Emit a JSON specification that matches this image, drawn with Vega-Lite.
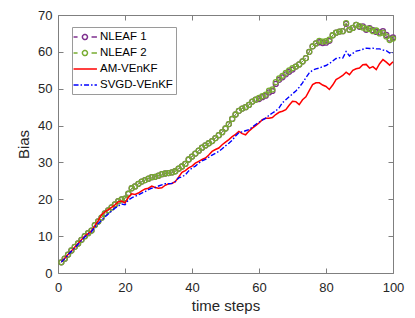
{
"$schema":"https://vega.github.io/schema/vega-lite/v6.json",
"width":335,"height":258,"autosize":"none",
"padding":{"left":58,"top":15,"right":22,"bottom":45},
"background":"white",
"config":{"view":{"stroke":null},"font":"Liberation Sans",
"axis":{"domainColor":"#7f7f7f","tickColor":"#7f7f7f","labelColor":"#262626","titleColor":"#262626","labelFont":"Liberation Sans","titleFont":"Liberation Sans","labelFontSize":13,"titleFontSize":15,"titleFontWeight":"normal","grid":false,"tickSize":-5,"domainWidth":1,"tickWidth":1,"labelFlush":false,"labelOverlap":false}},
"data":{"values":[
{"t":1,"s":"NLEAF 1","v":2.9},{"t":2,"s":"NLEAF 1","v":3.9},{"t":3,"s":"NLEAF 1","v":5.0},{"t":4,"s":"NLEAF 1","v":6.1},{"t":5,"s":"NLEAF 1","v":7.1},{"t":6,"s":"NLEAF 1","v":8.0},{"t":7,"s":"NLEAF 1","v":9.0},{"t":8,"s":"NLEAF 1","v":10.0},{"t":9,"s":"NLEAF 1","v":10.8},{"t":10,"s":"NLEAF 1","v":11.5},
{"t":11,"s":"NLEAF 1","v":13.0},{"t":12,"s":"NLEAF 1","v":14.0},{"t":13,"s":"NLEAF 1","v":15.0},{"t":14,"s":"NLEAF 1","v":16.2},{"t":15,"s":"NLEAF 1","v":17.0},{"t":16,"s":"NLEAF 1","v":17.8},{"t":17,"s":"NLEAF 1","v":18.6},{"t":18,"s":"NLEAF 1","v":19.5},{"t":19,"s":"NLEAF 1","v":20.0},{"t":20,"s":"NLEAF 1","v":20.2},
{"t":21,"s":"NLEAF 1","v":21.5},{"t":22,"s":"NLEAF 1","v":23.0},{"t":23,"s":"NLEAF 1","v":23.5},{"t":24,"s":"NLEAF 1","v":24.2},{"t":25,"s":"NLEAF 1","v":24.8},{"t":26,"s":"NLEAF 1","v":25.2},{"t":27,"s":"NLEAF 1","v":25.6},{"t":28,"s":"NLEAF 1","v":26.0},{"t":29,"s":"NLEAF 1","v":26.1},{"t":30,"s":"NLEAF 1","v":26.4},
{"t":31,"s":"NLEAF 1","v":26.8},{"t":32,"s":"NLEAF 1","v":27.0},{"t":33,"s":"NLEAF 1","v":27.1},{"t":34,"s":"NLEAF 1","v":27.3},{"t":35,"s":"NLEAF 1","v":27.6},{"t":36,"s":"NLEAF 1","v":28.3},{"t":37,"s":"NLEAF 1","v":28.9},{"t":38,"s":"NLEAF 1","v":29.6},{"t":39,"s":"NLEAF 1","v":30.8},{"t":40,"s":"NLEAF 1","v":31.6},
{"t":41,"s":"NLEAF 1","v":32.4},{"t":42,"s":"NLEAF 1","v":33.2},{"t":43,"s":"NLEAF 1","v":34.0},{"t":44,"s":"NLEAF 1","v":34.6},{"t":45,"s":"NLEAF 1","v":35.2},{"t":46,"s":"NLEAF 1","v":35.8},{"t":47,"s":"NLEAF 1","v":36.6},{"t":48,"s":"NLEAF 1","v":37.4},{"t":49,"s":"NLEAF 1","v":38.2},{"t":50,"s":"NLEAF 1","v":39.2},
{"t":51,"s":"NLEAF 1","v":40.4},{"t":52,"s":"NLEAF 1","v":41.8},{"t":53,"s":"NLEAF 1","v":43.0},{"t":54,"s":"NLEAF 1","v":44.0},{"t":55,"s":"NLEAF 1","v":44.6},{"t":56,"s":"NLEAF 1","v":45.0},{"t":57,"s":"NLEAF 1","v":45.6},{"t":58,"s":"NLEAF 1","v":46.5},{"t":59,"s":"NLEAF 1","v":47.0},{"t":60,"s":"NLEAF 1","v":47.2},
{"t":61,"s":"NLEAF 1","v":47.7},{"t":62,"s":"NLEAF 1","v":48.1},{"t":63,"s":"NLEAF 1","v":49.0},{"t":64,"s":"NLEAF 1","v":49.4},{"t":65,"s":"NLEAF 1","v":51.3},{"t":66,"s":"NLEAF 1","v":52.4},{"t":67,"s":"NLEAF 1","v":53.1},{"t":68,"s":"NLEAF 1","v":53.9},{"t":69,"s":"NLEAF 1","v":54.6},{"t":70,"s":"NLEAF 1","v":55.2},
{"t":71,"s":"NLEAF 1","v":56.0},{"t":72,"s":"NLEAF 1","v":56.6},{"t":73,"s":"NLEAF 1","v":57.4},{"t":74,"s":"NLEAF 1","v":58.3},{"t":75,"s":"NLEAF 1","v":60.0},{"t":76,"s":"NLEAF 1","v":61.5},{"t":77,"s":"NLEAF 1","v":62.3},{"t":78,"s":"NLEAF 1","v":62.6},{"t":79,"s":"NLEAF 1","v":62.4},{"t":80,"s":"NLEAF 1","v":62.5},
{"t":81,"s":"NLEAF 1","v":63.0},{"t":82,"s":"NLEAF 1","v":64.5},{"t":83,"s":"NLEAF 1","v":65.2},{"t":84,"s":"NLEAF 1","v":65.5},{"t":85,"s":"NLEAF 1","v":65.6},{"t":86,"s":"NLEAF 1","v":67.6},{"t":87,"s":"NLEAF 1","v":66.0},{"t":88,"s":"NLEAF 1","v":66.5},{"t":89,"s":"NLEAF 1","v":67.3},{"t":90,"s":"NLEAF 1","v":66.8},
{"t":91,"s":"NLEAF 1","v":66.9},{"t":92,"s":"NLEAF 1","v":66.0},{"t":93,"s":"NLEAF 1","v":66.4},{"t":94,"s":"NLEAF 1","v":65.9},{"t":95,"s":"NLEAF 1","v":65.4},{"t":96,"s":"NLEAF 1","v":65.3},{"t":97,"s":"NLEAF 1","v":65.6},{"t":98,"s":"NLEAF 1","v":64.6},{"t":99,"s":"NLEAF 1","v":63.6},{"t":100,"s":"NLEAF 1","v":63.9},
{"t":1,"s":"NLEAF 2","v":2.9},{"t":2,"s":"NLEAF 2","v":3.9},{"t":3,"s":"NLEAF 2","v":5.0},{"t":4,"s":"NLEAF 2","v":6.1},{"t":5,"s":"NLEAF 2","v":7.1},{"t":6,"s":"NLEAF 2","v":8.0},{"t":7,"s":"NLEAF 2","v":9.0},{"t":8,"s":"NLEAF 2","v":10.0},{"t":9,"s":"NLEAF 2","v":10.8},{"t":10,"s":"NLEAF 2","v":11.5},
{"t":11,"s":"NLEAF 2","v":13.0},{"t":12,"s":"NLEAF 2","v":14.0},{"t":13,"s":"NLEAF 2","v":15.0},{"t":14,"s":"NLEAF 2","v":16.2},{"t":15,"s":"NLEAF 2","v":17.0},{"t":16,"s":"NLEAF 2","v":17.8},{"t":17,"s":"NLEAF 2","v":18.6},{"t":18,"s":"NLEAF 2","v":19.5},{"t":19,"s":"NLEAF 2","v":20.0},{"t":20,"s":"NLEAF 2","v":20.2},
{"t":21,"s":"NLEAF 2","v":21.5},{"t":22,"s":"NLEAF 2","v":23.0},{"t":23,"s":"NLEAF 2","v":23.5},{"t":24,"s":"NLEAF 2","v":24.2},{"t":25,"s":"NLEAF 2","v":24.8},{"t":26,"s":"NLEAF 2","v":25.2},{"t":27,"s":"NLEAF 2","v":25.6},{"t":28,"s":"NLEAF 2","v":26.0},{"t":29,"s":"NLEAF 2","v":26.1},{"t":30,"s":"NLEAF 2","v":26.4},
{"t":31,"s":"NLEAF 2","v":26.8},{"t":32,"s":"NLEAF 2","v":27.0},{"t":33,"s":"NLEAF 2","v":27.1},{"t":34,"s":"NLEAF 2","v":27.3},{"t":35,"s":"NLEAF 2","v":27.6},{"t":36,"s":"NLEAF 2","v":28.3},{"t":37,"s":"NLEAF 2","v":28.9},{"t":38,"s":"NLEAF 2","v":29.6},{"t":39,"s":"NLEAF 2","v":30.8},{"t":40,"s":"NLEAF 2","v":31.6},
{"t":41,"s":"NLEAF 2","v":32.4},{"t":42,"s":"NLEAF 2","v":33.2},{"t":43,"s":"NLEAF 2","v":34.0},{"t":44,"s":"NLEAF 2","v":34.6},{"t":45,"s":"NLEAF 2","v":35.2},{"t":46,"s":"NLEAF 2","v":35.8},{"t":47,"s":"NLEAF 2","v":36.6},{"t":48,"s":"NLEAF 2","v":37.4},{"t":49,"s":"NLEAF 2","v":38.2},{"t":50,"s":"NLEAF 2","v":39.2},
{"t":51,"s":"NLEAF 2","v":40.4},{"t":52,"s":"NLEAF 2","v":41.8},{"t":53,"s":"NLEAF 2","v":43.0},{"t":54,"s":"NLEAF 2","v":44.0},{"t":55,"s":"NLEAF 2","v":44.6},{"t":56,"s":"NLEAF 2","v":45.0},{"t":57,"s":"NLEAF 2","v":45.6},{"t":58,"s":"NLEAF 2","v":46.5},{"t":59,"s":"NLEAF 2","v":47.0},{"t":60,"s":"NLEAF 2","v":47.5},
{"t":61,"s":"NLEAF 2","v":48.0},{"t":62,"s":"NLEAF 2","v":48.4},{"t":63,"s":"NLEAF 2","v":49.5},{"t":64,"s":"NLEAF 2","v":49.8},{"t":65,"s":"NLEAF 2","v":51.8},{"t":66,"s":"NLEAF 2","v":52.8},{"t":67,"s":"NLEAF 2","v":53.5},{"t":68,"s":"NLEAF 2","v":54.3},{"t":69,"s":"NLEAF 2","v":55.0},{"t":70,"s":"NLEAF 2","v":55.6},
{"t":71,"s":"NLEAF 2","v":56.0},{"t":72,"s":"NLEAF 2","v":56.6},{"t":73,"s":"NLEAF 2","v":57.4},{"t":74,"s":"NLEAF 2","v":58.3},{"t":75,"s":"NLEAF 2","v":60.0},{"t":76,"s":"NLEAF 2","v":61.5},{"t":77,"s":"NLEAF 2","v":62.3},{"t":78,"s":"NLEAF 2","v":63.0},{"t":79,"s":"NLEAF 2","v":62.8},{"t":80,"s":"NLEAF 2","v":62.9},
{"t":81,"s":"NLEAF 2","v":63.3},{"t":82,"s":"NLEAF 2","v":64.5},{"t":83,"s":"NLEAF 2","v":65.2},{"t":84,"s":"NLEAF 2","v":65.5},{"t":85,"s":"NLEAF 2","v":65.6},{"t":86,"s":"NLEAF 2","v":67.8},{"t":87,"s":"NLEAF 2","v":66.0},{"t":88,"s":"NLEAF 2","v":66.5},{"t":89,"s":"NLEAF 2","v":67.3},{"t":90,"s":"NLEAF 2","v":67.0},
{"t":91,"s":"NLEAF 2","v":66.6},{"t":92,"s":"NLEAF 2","v":66.3},{"t":93,"s":"NLEAF 2","v":66.2},{"t":94,"s":"NLEAF 2","v":65.6},{"t":95,"s":"NLEAF 2","v":65.8},{"t":96,"s":"NLEAF 2","v":65.0},{"t":97,"s":"NLEAF 2","v":65.2},{"t":98,"s":"NLEAF 2","v":64.2},{"t":99,"s":"NLEAF 2","v":63.2},{"t":100,"s":"NLEAF 2","v":63.6},
{"t":1,"s":"AM-VEnKF","v":3.0},{"t":2,"s":"AM-VEnKF","v":4.0},{"t":3,"s":"AM-VEnKF","v":5.0},{"t":4,"s":"AM-VEnKF","v":6.0},{"t":5,"s":"AM-VEnKF","v":7.0},{"t":6,"s":"AM-VEnKF","v":8.0},{"t":7,"s":"AM-VEnKF","v":9.0},{"t":8,"s":"AM-VEnKF","v":10.0},{"t":9,"s":"AM-VEnKF","v":10.7},{"t":10,"s":"AM-VEnKF","v":11.4},
{"t":11,"s":"AM-VEnKF","v":12.8},{"t":12,"s":"AM-VEnKF","v":14.2},{"t":13,"s":"AM-VEnKF","v":15.8},{"t":14,"s":"AM-VEnKF","v":16.6},{"t":15,"s":"AM-VEnKF","v":17.2},{"t":16,"s":"AM-VEnKF","v":17.8},{"t":17,"s":"AM-VEnKF","v":18.5},{"t":18,"s":"AM-VEnKF","v":19.3},{"t":19,"s":"AM-VEnKF","v":19.5},{"t":20,"s":"AM-VEnKF","v":19.0},
{"t":21,"s":"AM-VEnKF","v":20.5},{"t":22,"s":"AM-VEnKF","v":21.5},{"t":23,"s":"AM-VEnKF","v":21.3},{"t":24,"s":"AM-VEnKF","v":21.7},{"t":25,"s":"AM-VEnKF","v":22.3},{"t":26,"s":"AM-VEnKF","v":22.8},{"t":27,"s":"AM-VEnKF","v":23.0},{"t":28,"s":"AM-VEnKF","v":23.6},{"t":29,"s":"AM-VEnKF","v":23.2},{"t":30,"s":"AM-VEnKF","v":23.0},
{"t":31,"s":"AM-VEnKF","v":23.1},{"t":32,"s":"AM-VEnKF","v":23.8},{"t":33,"s":"AM-VEnKF","v":24.2},{"t":34,"s":"AM-VEnKF","v":24.3},{"t":35,"s":"AM-VEnKF","v":24.8},{"t":36,"s":"AM-VEnKF","v":26.0},{"t":37,"s":"AM-VEnKF","v":27.3},{"t":38,"s":"AM-VEnKF","v":27.8},{"t":39,"s":"AM-VEnKF","v":28.5},{"t":40,"s":"AM-VEnKF","v":29.0},
{"t":41,"s":"AM-VEnKF","v":29.8},{"t":42,"s":"AM-VEnKF","v":30.3},{"t":43,"s":"AM-VEnKF","v":30.8},{"t":44,"s":"AM-VEnKF","v":31.2},{"t":45,"s":"AM-VEnKF","v":32.0},{"t":46,"s":"AM-VEnKF","v":33.0},{"t":47,"s":"AM-VEnKF","v":33.5},{"t":48,"s":"AM-VEnKF","v":33.9},{"t":49,"s":"AM-VEnKF","v":34.8},{"t":50,"s":"AM-VEnKF","v":35.5},
{"t":51,"s":"AM-VEnKF","v":36.2},{"t":52,"s":"AM-VEnKF","v":37.0},{"t":53,"s":"AM-VEnKF","v":37.6},{"t":54,"s":"AM-VEnKF","v":38.4},{"t":55,"s":"AM-VEnKF","v":37.8},{"t":56,"s":"AM-VEnKF","v":37.5},{"t":57,"s":"AM-VEnKF","v":38.5},{"t":58,"s":"AM-VEnKF","v":39.3},{"t":59,"s":"AM-VEnKF","v":40.0},{"t":60,"s":"AM-VEnKF","v":40.7},
{"t":61,"s":"AM-VEnKF","v":41.6},{"t":62,"s":"AM-VEnKF","v":42.0},{"t":63,"s":"AM-VEnKF","v":42.0},{"t":64,"s":"AM-VEnKF","v":42.2},{"t":65,"s":"AM-VEnKF","v":43.0},{"t":66,"s":"AM-VEnKF","v":43.6},{"t":67,"s":"AM-VEnKF","v":43.9},{"t":68,"s":"AM-VEnKF","v":44.3},{"t":69,"s":"AM-VEnKF","v":45.5},{"t":70,"s":"AM-VEnKF","v":46.6},
{"t":71,"s":"AM-VEnKF","v":46.5},{"t":72,"s":"AM-VEnKF","v":45.7},{"t":73,"s":"AM-VEnKF","v":47.0},{"t":74,"s":"AM-VEnKF","v":47.8},{"t":75,"s":"AM-VEnKF","v":49.5},{"t":76,"s":"AM-VEnKF","v":51.1},{"t":77,"s":"AM-VEnKF","v":51.6},{"t":78,"s":"AM-VEnKF","v":51.6},{"t":79,"s":"AM-VEnKF","v":51.0},{"t":80,"s":"AM-VEnKF","v":50.6},
{"t":81,"s":"AM-VEnKF","v":49.8},{"t":82,"s":"AM-VEnKF","v":51.0},{"t":83,"s":"AM-VEnKF","v":52.5},{"t":84,"s":"AM-VEnKF","v":53.0},{"t":85,"s":"AM-VEnKF","v":53.6},{"t":86,"s":"AM-VEnKF","v":54.5},{"t":87,"s":"AM-VEnKF","v":53.8},{"t":88,"s":"AM-VEnKF","v":55.0},{"t":89,"s":"AM-VEnKF","v":55.4},{"t":90,"s":"AM-VEnKF","v":55.6},
{"t":91,"s":"AM-VEnKF","v":56.5},{"t":92,"s":"AM-VEnKF","v":56.6},{"t":93,"s":"AM-VEnKF","v":55.6},{"t":94,"s":"AM-VEnKF","v":56.0},{"t":95,"s":"AM-VEnKF","v":55.2},{"t":96,"s":"AM-VEnKF","v":56.8},{"t":97,"s":"AM-VEnKF","v":57.9},{"t":98,"s":"AM-VEnKF","v":57.2},{"t":99,"s":"AM-VEnKF","v":56.4},{"t":100,"s":"AM-VEnKF","v":57.3},
{"t":1,"s":"SVGD-VEnKF","v":3.0},{"t":2,"s":"SVGD-VEnKF","v":3.9},{"t":3,"s":"SVGD-VEnKF","v":4.9},{"t":4,"s":"SVGD-VEnKF","v":5.9},{"t":5,"s":"SVGD-VEnKF","v":6.8},{"t":6,"s":"SVGD-VEnKF","v":7.8},{"t":7,"s":"SVGD-VEnKF","v":8.8},{"t":8,"s":"SVGD-VEnKF","v":9.8},{"t":9,"s":"SVGD-VEnKF","v":10.5},{"t":10,"s":"SVGD-VEnKF","v":11.2},
{"t":11,"s":"SVGD-VEnKF","v":12.5},{"t":12,"s":"SVGD-VEnKF","v":13.4},{"t":13,"s":"SVGD-VEnKF","v":14.3},{"t":14,"s":"SVGD-VEnKF","v":15.2},{"t":15,"s":"SVGD-VEnKF","v":16.0},{"t":16,"s":"SVGD-VEnKF","v":16.8},{"t":17,"s":"SVGD-VEnKF","v":17.6},{"t":18,"s":"SVGD-VEnKF","v":18.2},{"t":19,"s":"SVGD-VEnKF","v":18.7},{"t":20,"s":"SVGD-VEnKF","v":18.5},
{"t":21,"s":"SVGD-VEnKF","v":19.8},{"t":22,"s":"SVGD-VEnKF","v":20.4},{"t":23,"s":"SVGD-VEnKF","v":20.8},{"t":24,"s":"SVGD-VEnKF","v":21.2},{"t":25,"s":"SVGD-VEnKF","v":21.7},{"t":26,"s":"SVGD-VEnKF","v":22.1},{"t":27,"s":"SVGD-VEnKF","v":22.6},{"t":28,"s":"SVGD-VEnKF","v":23.0},{"t":29,"s":"SVGD-VEnKF","v":23.2},{"t":30,"s":"SVGD-VEnKF","v":23.6},
{"t":31,"s":"SVGD-VEnKF","v":23.9},{"t":32,"s":"SVGD-VEnKF","v":24.2},{"t":33,"s":"SVGD-VEnKF","v":24.2},{"t":34,"s":"SVGD-VEnKF","v":24.3},{"t":35,"s":"SVGD-VEnKF","v":24.8},{"t":36,"s":"SVGD-VEnKF","v":25.8},{"t":37,"s":"SVGD-VEnKF","v":26.1},{"t":38,"s":"SVGD-VEnKF","v":26.6},{"t":39,"s":"SVGD-VEnKF","v":27.7},{"t":40,"s":"SVGD-VEnKF","v":28.5},
{"t":41,"s":"SVGD-VEnKF","v":29.0},{"t":42,"s":"SVGD-VEnKF","v":29.8},{"t":43,"s":"SVGD-VEnKF","v":30.4},{"t":44,"s":"SVGD-VEnKF","v":30.8},{"t":45,"s":"SVGD-VEnKF","v":31.4},{"t":46,"s":"SVGD-VEnKF","v":32.0},{"t":47,"s":"SVGD-VEnKF","v":32.5},{"t":48,"s":"SVGD-VEnKF","v":33.0},{"t":49,"s":"SVGD-VEnKF","v":33.7},{"t":50,"s":"SVGD-VEnKF","v":34.5},
{"t":51,"s":"SVGD-VEnKF","v":35.2},{"t":52,"s":"SVGD-VEnKF","v":36.0},{"t":53,"s":"SVGD-VEnKF","v":37.2},{"t":54,"s":"SVGD-VEnKF","v":38.1},{"t":55,"s":"SVGD-VEnKF","v":38.3},{"t":56,"s":"SVGD-VEnKF","v":38.6},{"t":57,"s":"SVGD-VEnKF","v":38.9},{"t":58,"s":"SVGD-VEnKF","v":39.6},{"t":59,"s":"SVGD-VEnKF","v":40.3},{"t":60,"s":"SVGD-VEnKF","v":40.9},
{"t":61,"s":"SVGD-VEnKF","v":41.5},{"t":62,"s":"SVGD-VEnKF","v":42.0},{"t":63,"s":"SVGD-VEnKF","v":42.8},{"t":64,"s":"SVGD-VEnKF","v":43.4},{"t":65,"s":"SVGD-VEnKF","v":44.0},{"t":66,"s":"SVGD-VEnKF","v":44.8},{"t":67,"s":"SVGD-VEnKF","v":46.2},{"t":68,"s":"SVGD-VEnKF","v":47.0},{"t":69,"s":"SVGD-VEnKF","v":47.8},{"t":70,"s":"SVGD-VEnKF","v":48.6},
{"t":71,"s":"SVGD-VEnKF","v":49.4},{"t":72,"s":"SVGD-VEnKF","v":50.4},{"t":73,"s":"SVGD-VEnKF","v":51.6},{"t":74,"s":"SVGD-VEnKF","v":53.0},{"t":75,"s":"SVGD-VEnKF","v":54.3},{"t":76,"s":"SVGD-VEnKF","v":55.0},{"t":77,"s":"SVGD-VEnKF","v":55.4},{"t":78,"s":"SVGD-VEnKF","v":55.6},{"t":79,"s":"SVGD-VEnKF","v":56.0},{"t":80,"s":"SVGD-VEnKF","v":56.3},
{"t":81,"s":"SVGD-VEnKF","v":56.8},{"t":82,"s":"SVGD-VEnKF","v":57.5},{"t":83,"s":"SVGD-VEnKF","v":58.2},{"t":84,"s":"SVGD-VEnKF","v":58.4},{"t":85,"s":"SVGD-VEnKF","v":58.3},{"t":86,"s":"SVGD-VEnKF","v":60.1},{"t":87,"s":"SVGD-VEnKF","v":58.9},{"t":88,"s":"SVGD-VEnKF","v":59.6},{"t":89,"s":"SVGD-VEnKF","v":60.2},{"t":90,"s":"SVGD-VEnKF","v":60.4},
{"t":91,"s":"SVGD-VEnKF","v":60.7},{"t":92,"s":"SVGD-VEnKF","v":61.0},{"t":93,"s":"SVGD-VEnKF","v":60.9},{"t":94,"s":"SVGD-VEnKF","v":61.0},{"t":95,"s":"SVGD-VEnKF","v":60.8},{"t":96,"s":"SVGD-VEnKF","v":60.8},{"t":97,"s":"SVGD-VEnKF","v":60.5},{"t":98,"s":"SVGD-VEnKF","v":60.3},{"t":99,"s":"SVGD-VEnKF","v":59.7},{"t":100,"s":"SVGD-VEnKF","v":59.8}
]},
"layer":[
{"transform":[{"filter":"datum.s == 'NLEAF 1'"}],
 "mark":{"type":"line","strokeDash":[6,4],"strokeWidth":1},
 "encoding":{
  "x":{"field":"t","type":"quantitative","scale":{"domain":[0,100]},"axis":{"orient":"bottom","values":[0,20,40,60,80,100],"title":"time steps","labelPadding":13,"titlePadding":4}},
  "y":{"field":"v","type":"quantitative","scale":{"domain":[0,70]},"axis":{"orient":"left","values":[0,10,20,30,40,50,60,70],"title":"Bias","labelPadding":11,"titlePadding":6}},
  "color":{"field":"s","type":"nominal","scale":{"domain":["NLEAF 1","NLEAF 2","AM-VEnKF","SVGD-VEnKF"],"range":["#7E2F8E","#77AC30","#FF0000","#0000FF"]},
   "legend":{"title":null,"orient":"none","legendX":14,"legendY":12,"strokeColor":"#9a9a9a","fillColor":"white","padding":3,"labelFont":"Liberation Sans","labelFontSize":11.5,"labelColor":"#000000","symbolSize":144,"symbolStrokeWidth":1.5,"labelOffset":11,"rowPadding":3,"symbolType":"M-1.41,0H2.49",
    "encode":{"symbols":{"update":{"shape":{"signal":"indexof(['NLEAF 1','NLEAF 2'], datum.value) >= 0 ? 'M-1.41,0H-0.74M1.59,0H2.49M0.91,0A0.42,0.42,0,1,1,0.07,0A0.42,0.42,0,1,1,0.91,0' : 'M-1.41,0H2.49'"},"strokeDash":{"signal":"datum.value == 'SVGD-VEnKF' ? [5,2,1.5,2] : [1,0]"},"fill":{"value":"transparent"}}}}}}
 }},
{"transform":[{"filter":"datum.s == 'NLEAF 1'"}],
 "mark":{"type":"point","shape":"circle","filled":false,"size":25,"strokeWidth":1.3,"opacity":1},
 "encoding":{
  "x":{"field":"t","type":"quantitative","axis":null},
  "y":{"field":"v","type":"quantitative","axis":null},
  "stroke":{"field":"s","type":"nominal","scale":{"domain":["NLEAF 1","NLEAF 2"],"range":["#7E2F8E","#77AC30"]},"legend":null}
 }},
{"transform":[{"filter":"datum.s == 'NLEAF 2'"}],
 "mark":{"type":"line","strokeDash":[6,4],"strokeWidth":1},
 "encoding":{
  "x":{"field":"t","type":"quantitative","axis":null},
  "y":{"field":"v","type":"quantitative","axis":null},
  "color":{"field":"s","type":"nominal"}
 }},
{"transform":[{"filter":"datum.s == 'NLEAF 2'"}],
 "mark":{"type":"point","shape":"circle","filled":false,"size":25,"strokeWidth":1.3,"opacity":1},
 "encoding":{
  "x":{"field":"t","type":"quantitative","axis":null},
  "y":{"field":"v","type":"quantitative","axis":null},
  "stroke":{"field":"s","type":"nominal","legend":null}
 }},
{"transform":[{"filter":"datum.s == 'AM-VEnKF'"}],
 "mark":{"type":"line","strokeWidth":1.5},
 "encoding":{
  "x":{"field":"t","type":"quantitative","axis":null},
  "y":{"field":"v","type":"quantitative","axis":null},
  "color":{"field":"s","type":"nominal"}
 }},
{"transform":[{"filter":"datum.s == 'SVGD-VEnKF'"}],
 "mark":{"type":"line","strokeWidth":1.4,"strokeDash":[5,2,1.5,2]},
 "encoding":{
  "x":{"field":"t","type":"quantitative","axis":{"orient":"top","values":[0,20,40,60,80,100],"labels":false,"title":null}},
  "y":{"field":"v","type":"quantitative","axis":{"orient":"right","values":[0,10,20,30,40,50,60,70],"labels":false,"title":null}},
  "color":{"field":"s","type":"nominal"}
 }}
],
"resolve":{"axis":{"x":"independent","y":"independent"}}
}
